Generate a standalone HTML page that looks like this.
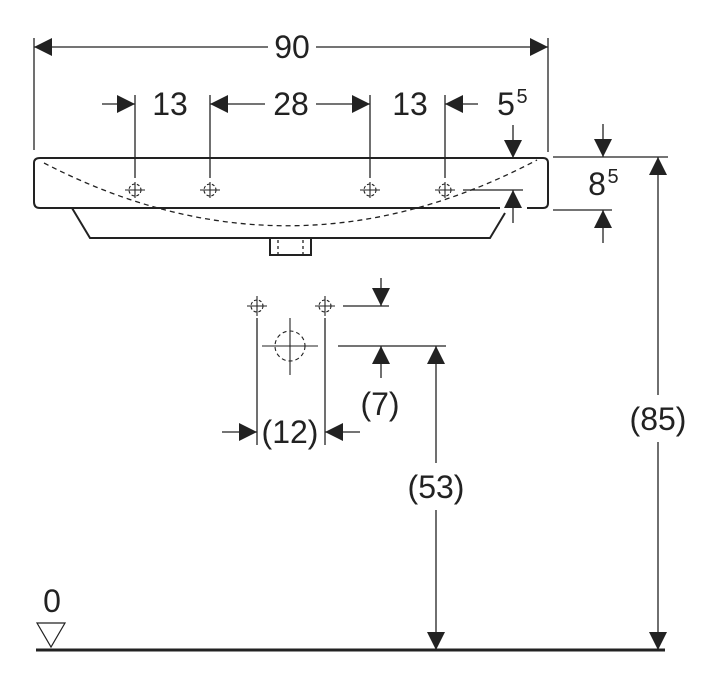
<!DOCTYPE html>
<html><head><meta charset="utf-8"><style>
html,body{margin:0;padding:0;background:#fff;}
svg{display:block;}
text{font-family:"Liberation Sans",sans-serif;fill:#222;}
</style></head><body>
<svg width="720" height="686" viewBox="0 0 720 686" xmlns="http://www.w3.org/2000/svg">
<defs>
<marker id="a" viewBox="0 0 10 10" refX="10" refY="5" markerWidth="18" markerHeight="18" markerUnits="userSpaceOnUse" orient="auto"><path d="M0,0L10,5L0,10z" fill="#222"/></marker>
</defs>
<g stroke="#222" fill="none" stroke-width="1.3">
<line x1="34" y1="38" x2="34" y2="150"/>
<line x1="548" y1="38" x2="548" y2="152"/>
<line x1="268" y1="47" x2="34" y2="47" marker-end="url(#a)"/>
<line x1="316" y1="47" x2="548" y2="47" marker-end="url(#a)"/>
<line x1="135" y1="95" x2="135" y2="178"/>
<line x1="210" y1="95" x2="210" y2="178"/>
<line x1="370" y1="95" x2="370" y2="178"/>
<line x1="445" y1="95" x2="445" y2="178"/>
<line x1="102" y1="104" x2="135" y2="104" marker-end="url(#a)"/>
<line x1="265" y1="104" x2="210" y2="104" marker-end="url(#a)"/>
<line x1="316" y1="104" x2="370" y2="104" marker-end="url(#a)"/>
<line x1="478" y1="104" x2="445" y2="104" marker-end="url(#a)"/>
<path d="M500,208 L40,208 Q34,208 34,202 L34,163 Q34,158 40,158 L543,158 Q548,158 548,163 L548,203 Q548,208 543,208 L527,208" stroke-width="2"/>
<path d="M72,208 L90,238 L490,238 L505,213" stroke-width="2"/>
<path d="M270,238 L270,255 L311,255 L311,238" stroke-width="2"/>
<path d="M44,163 Q290,290 537,160" stroke-dasharray="5,4"/>
<line x1="278" y1="240" x2="278" y2="254" stroke-dasharray="3,3"/>
<line x1="303" y1="240" x2="303" y2="254" stroke-dasharray="3,3"/>
<line x1="463" y1="190" x2="523" y2="190"/>
<g stroke-width="1.1">
<circle cx="135" cy="190" r="6" stroke-dasharray="3,2"/><line x1="125" y1="190" x2="145" y2="190"/><line x1="135" y1="182" x2="135" y2="198"/>
<circle cx="210" cy="190" r="6" stroke-dasharray="3,2"/><line x1="200" y1="190" x2="220" y2="190"/><line x1="210" y1="182" x2="210" y2="198"/>
<circle cx="370" cy="190" r="6" stroke-dasharray="3,2"/><line x1="360" y1="190" x2="380" y2="190"/><line x1="370" y1="182" x2="370" y2="198"/>
<circle cx="445" cy="190" r="6" stroke-dasharray="3,2"/><line x1="435" y1="190" x2="455" y2="190"/><line x1="445" y1="182" x2="445" y2="198"/>
<circle cx="257" cy="306" r="6" stroke-dasharray="3,2"/><line x1="247" y1="306" x2="267" y2="306"/><line x1="257" y1="296" x2="257" y2="316"/>
<circle cx="325" cy="306" r="6" stroke-dasharray="3,2"/><line x1="315" y1="306" x2="335" y2="306"/><line x1="325" y1="296" x2="325" y2="316"/>
<circle cx="290" cy="346" r="15" stroke-dasharray="4,3"/>
<line x1="262" y1="346" x2="318" y2="346"/><line x1="290" y1="318" x2="290" y2="375"/>
</g>
<line x1="513" y1="125" x2="513" y2="158" marker-end="url(#a)"/>
<line x1="513" y1="223" x2="513" y2="190" marker-end="url(#a)"/>
<line x1="553" y1="157" x2="668" y2="157"/>
<line x1="553" y1="210" x2="612" y2="210"/>
<line x1="603" y1="124" x2="603" y2="157" marker-end="url(#a)"/>
<line x1="603" y1="243" x2="603" y2="210" marker-end="url(#a)"/>
<line x1="658" y1="395" x2="658" y2="157" marker-end="url(#a)"/>
<line x1="658" y1="442" x2="658" y2="650" marker-end="url(#a)"/>
<line x1="257" y1="318" x2="257" y2="445"/>
<line x1="325" y1="318" x2="325" y2="445"/>
<line x1="343" y1="306" x2="389" y2="306"/>
<line x1="381" y1="278" x2="381" y2="306" marker-end="url(#a)"/>
<line x1="338" y1="346" x2="446" y2="346"/>
<line x1="381" y1="378" x2="381" y2="346" marker-end="url(#a)"/>
<line x1="436" y1="463" x2="436" y2="346" marker-end="url(#a)"/>
<line x1="436" y1="510" x2="436" y2="650" marker-end="url(#a)"/>
<line x1="222" y1="432" x2="257" y2="432" marker-end="url(#a)"/>
<line x1="360" y1="432" x2="325" y2="432" marker-end="url(#a)"/>
<line x1="36" y1="650" x2="665" y2="650" stroke-width="3"/>
<path d="M37,623 L65,623 L51,647 Z" stroke-width="1.2"/>
</g>
<g font-size="32" text-anchor="middle">
<text x="292" y="58">90</text>
<text x="170" y="115">13</text>
<text x="291" y="115">28</text>
<text x="410" y="115">13</text>
<text x="506" y="115">5</text><text x="522" y="103" font-size="20">5</text>
<text x="597" y="195">8</text><text x="613" y="183" font-size="20">5</text>
<text x="658" y="430">(85)</text>
<text x="380" y="415">(7)</text>
<text x="290" y="443">(12)</text>
<text x="436" y="498">(53)</text>
<text x="52" y="612">0</text>
</g>
</svg>
</body></html>
